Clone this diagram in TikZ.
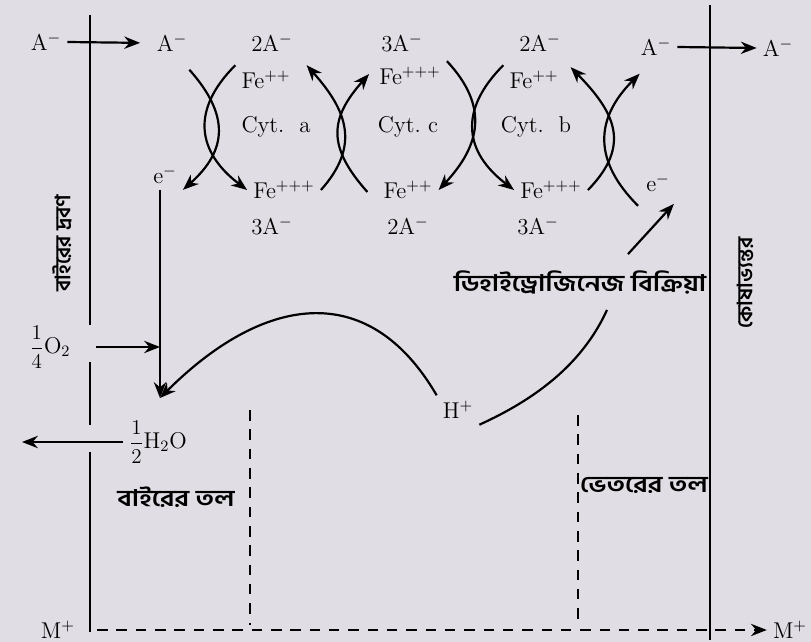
\documentclass[tikz,border=0pt]{standalone}
\usepackage{amsmath}
\usepackage{fontspec}
\usepackage{xcolor}
\usepackage{tikz}
\usetikzlibrary{arrows.meta,calc}
\newfontfamily\bnfont[Script=Bengali]{Hind Siliguri}
\newfontfamily\bnwide[Script=Bengali,FakeStretch=1.2]{Hind Siliguri}
\definecolor{paper}{RGB}{224,221,228}

\begin{document}
\begin{tikzpicture}[x=0.02cm,y=0.02cm,font=\fontsize{13}{15}\selectfont,
  arr/.style={line width=1.25pt,-{Stealth[length=9pt,width=7pt]}},
  wall/.style={line width=1.3pt},
  dash line/.style={line width=1.2pt,dash pattern=on 6pt off 5pt},
  bn/.style={font=\bnfont\bfseries\fontsize{12}{14}\selectfont},
  bnw/.style={font=\bnwide\bfseries\fontsize{13}{15}\selectfont}]
\fill[paper] (0,0) rectangle (811,-642);
\useasboundingbox (0,0) rectangle (811,-642);
\draw[wall] (90,-15) -- (90,-325);
\draw[wall] (90,-362) -- (90,-425);
\draw[wall] (90,-452) -- (90,-632);
\draw[wall] (710,-5) -- (710,-640);
\draw[dash line] (250,-410) -- (250,-625);
\draw[dash line] (578,-415) -- (578,-625);
\node (aout) at (46,-42) {A$^-$};
\node (a1) at (172,-43) {A$^-$};
\node (s2a) at (272,-43) {2A$^-$};
\node (s3c) at (402,-43) {3A$^-$};
\node (s2b) at (540,-43) {2A$^-$};
\node (ain) at (656,-47) {A$^-$};
\node (aend) at (778,-48) {A$^-$};
\node (fa) at (266,-80) {Fe$^{++}$};
\node (fc) at (410,-76) {Fe$^{+++}$};
\node (fb) at (534,-80) {Fe$^{++}$};
\node (cyta) at (276,-127) {Cyt.\ \ a};
\node (cytc) at (408,-127) {Cyt.\ c};
\node (cytb) at (536,-127) {Cyt.\ \ b};
\node (e1) at (165,-175) {e$^-$};
\node (fa2) at (284,-190) {Fe$^{+++}$};
\node (fc2) at (408,-190) {Fe$^{++}$};
\node (fb2) at (551,-190) {Fe$^{+++}$};
\node (e2) at (658,-183) {e$^-$};
\node (t3a) at (272,-226) {3A$^-$};
\node (t2c) at (408,-226) {2A$^-$};
\node (t3b) at (538,-226) {3A$^-$};
\node[bnw] (dehyd) at (580,-282) {ডিহাইড্রোজিনেজ বিক্রিয়া};
\node (o2) at (50,-347) {$\dfrac{1}{4}$O$_2$};
\node (hplus) at (458,-410) {H$^+$};
\node (h2o) at (158,-442) {$\dfrac{1}{2}$H$_2$O};
\node[bn,rotate=90] (outside) at (62,-243) {বাইরের দ্রবণ};
\node[bn,rotate=90] (cellin) at (745,-283) {কোষাভ্যন্তর};
\node[bnw] (outsurf) at (176,-497) {বাইরের তল};
\node[bnw] (insurf) at (644,-485) {ভেতরের তল};
\node (mL) at (58,-630) {M$^+$};
\node (mR) at (790,-630) {M$^+$};
\coordinate (drop) at (160,-398);
\coordinate (join) at (drop |- o2);
\coordinate (outw) at (22,-442);
\draw[arr,shorten >=6pt] (aout.east) -- (a1.west);
\draw[arr] (ain.east) -- (aend.west);
\draw[arr] ($(a1.south east)+(-4,-12)$) .. controls +(40,-45) and +(45,40) .. (e1.south east);
\draw[arr] (fa.north west) .. controls +(-45,-45) and +(-50,38) .. (fa2.west);
\draw[arr] (fa2.east) .. controls +(40,45) and +(40,-45) .. ($(fa.north east)+(10,0)$);
\draw[arr] ($(fc2.west)+(-10,-2)$) .. controls +(-40,45) and +(-40,-45) .. ($(fc.west)+(-4,2)$);
\draw[arr] (fc.north east) .. controls +(42,-45) and +(42,45) .. (fc2.east);
\draw[arr] (fb.north west) .. controls +(-45,-45) and +(-50,38) .. (fb2.west);
\draw[arr] (fb2.east) .. controls +(44,45) and +(44,-45) .. ($(fb.north east)+(6,-2)$);
\draw[arr] ($(e2.south west)+(-2,-8)$) .. controls +(-45,45) and +(-45,-45) .. ($(ain.south west)+(5,-12)$);
\draw[arr] (e1.south -| drop) -- (drop);
\draw[arr,shorten <=11pt] (o2.east) -- (join);
\draw[arr] (hplus.north west) .. controls +(-70,120) and +(100,100) .. (drop);
\draw[line width=1.25pt] (hplus.south east) .. controls +(55,25) and +(-25,-55) .. ($(dehyd.south)+(27,-10)$);
\draw[arr] ($(dehyd.north)+(48,10)$) -- ($(e2.south east)+(-2,-6)$);
\draw[arr] (h2o.west) -- (outw);
\draw[dash line,-{Stealth[length=9pt,width=7pt]},shorten <=9pt] (mL.east) -- (mR.west);
\end{tikzpicture}
\end{document}
